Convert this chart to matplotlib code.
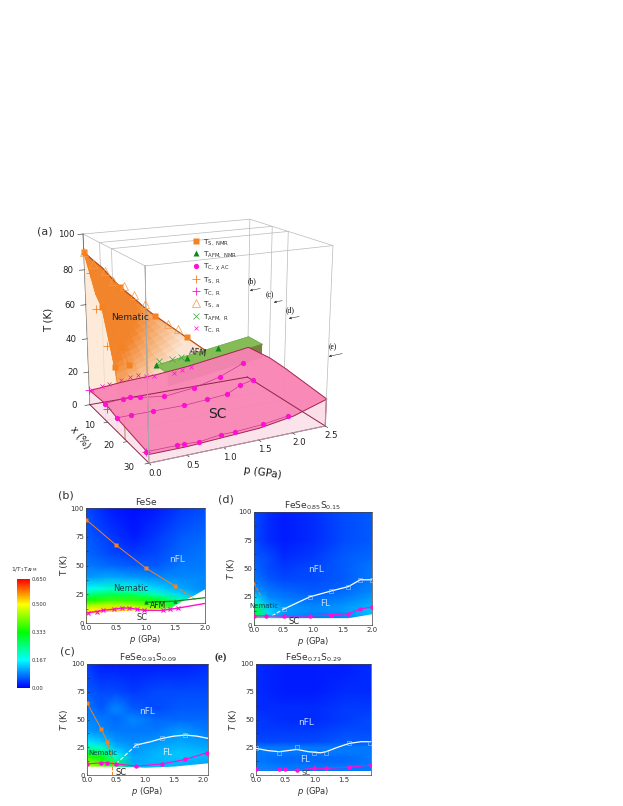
# -*- coding: utf-8 -*-
import numpy as np
import matplotlib
matplotlib.use('Agg')
import matplotlib.pyplot as plt
from matplotlib.colors import LinearSegmentedColormap, Normalize, to_rgb
from matplotlib.cm import ScalarMappable
from mpl_toolkits.mplot3d.art3d import Poly3DCollection

plt.rc('font', family='DejaVu Sans', size=5.5)
plt.rc('mathtext', default='regular')

W, H = 623, 806
NARANJA = '#f58220'
VERDE = '#0c8a1c'
MAGENTA = '#ff10d0'
BORDE_SC = '#a3234f'

# ---- datos por composicion (x = 0, 9, 15, 29 %)
p_ts_b = [0.0, 0.5, 1.0, 1.5]
t_ts_b = [90, 68, 48, 32]
p_afm_b = [1.0, 1.5, 2.0]
t_afm_b = [18, 19, 22]
p_tc_b = [0.04, 0.18, 0.29, 0.47, 0.60, 0.73, 0.85, 0.98, 1.29, 1.42, 1.55]
t_tc_b = [9, 10, 11, 12, 13, 13, 12, 11, 11, 12, 13]

p_ts_c = [0.0, 0.25, 0.35]
t_ts_c = [65, 41, 30]
p_tc_c = [0.0, 0.25, 0.35, 0.5, 0.85, 1.3, 1.7, 2.07]
t_tc_c = [10, 11, 11, 10, 8, 10, 14, 20]
p_fl_c = [0.85, 1.3, 1.7]
t_fl_c = [27, 33, 36]
p_linea_c = [0.85, 1.1, 1.3, 1.5, 1.7, 1.9, 2.09]
t_linea_c = [27, 30, 33, 35, 36, 35, 33]

p_tc_d = [0.0, 0.2, 0.5, 0.95, 1.3, 1.6, 1.8, 2.0]
t_tc_d = [8, 8, 8, 8, 9, 10, 14, 16]
p_fl_d = [0.5, 0.95, 1.3, 1.6, 1.8, 2.0]
t_fl_d = [14, 25, 30, 34, 40, 40]

p_tc_e = [0.0, 0.4, 0.5, 0.7, 1.0, 1.2, 1.6, 1.97]
t_tc_e = [5, 5, 5, 4.5, 6, 6, 7, 9]
p_fl_e = [0.0, 0.4, 0.7, 1.0, 1.2, 1.6, 1.95]
t_fl_e = [24, 20, 25, 20, 20, 29, 29]
p_linea_e = [0.0, 0.2, 0.4, 0.7, 0.9, 1.1, 1.2, 1.4, 1.6, 1.8, 1.97]
t_linea_e = [24, 22, 21, 23, 21, 20, 21, 25, 28.5, 30, 30]

# ---- 1/T1T mapas
T_mapa = [0, 8, 12, 16, 20, 25, 30, 40, 50, 60, 75, 100]
p_mapa_b = [0.0, 0.4, 0.8, 1.2, 1.6, 2.0]
z_b = [[.52, .52, .52, .46, .30, .16],
       [.52, .52, .52, .46, .30, .16],
       [.50, .52, .50, .44, .28, .15],
       [.42, .45, .43, .38, .27, .14],
       [.34, .37, .36, .32, .22, .13],
       [.25, .28, .27, .21, .14, .10],
       [.17, .20, .18, .14, .11, .09],
       [.10, .11, .10, .09, .09, .09],
       [.08, .07, .06, .06, .08, .08],
       [.07, .05, .04, .05, .07, .08],
       [.06, .04, .02, .04, .06, .07],
       [.05, .02, .01, .02, .04, .05]]
p_mapa_c = [0.0, 0.25, 0.5, 0.8, 1.2, 1.6, 2.09]
z_c = [[.45, .40, .30, .12, .12, .12, .11],
       [.45, .40, .30, .12, .12, .12, .11],
       [.42, .37, .27, .11, .12, .12, .11],
       [.36, .33, .20, .11, .12, .13, .12],
       [.30, .27, .15, .10, .12, .13, .12],
       [.22, .20, .12, .10, .11, .12, .11],
       [.15, .13, .10, .09, .10, .11, .10],
       [.10, .09, .08, .08, .08, .10, .08],
       [.09, .08, .07, .09, .07, .07, .07],
       [.08, .06, .09, .06, .05, .06, .06],
       [.06, .05, .05, .04, .05, .05, .05],
       [.04, .02, .02, .02, .02, .02, .03]]
p_mapa_d = [0.0, 0.25, 0.5, 1.0, 1.5, 2.0]
z_d = [[.30, .14, .10, .08, .09, .12],
       [.30, .14, .10, .08, .09, .12],
       [.30, .14, .10, .09, .10, .13],
       [.27, .13, .10, .09, .10, .12],
       [.20, .11, .09, .08, .09, .11],
       [.14, .09, .08, .07, .08, .10],
       [.10, .08, .07, .06, .07, .09],
       [.08, .06, .05, .05, .06, .08],
       [.07, .05, .04, .05, .06, .08],
       [.06, .05, .03, .04, .06, .07],
       [.05, .03, .02, .03, .05, .06],
       [.05, .03, .02, .03, .05, .06]]
p_mapa_e = [0.0, 0.5, 1.0, 1.5, 1.97]
z_e = [[.09, .08, .08, .08, .08],
       [.09, .08, .08, .08, .08],
       [.08, .07, .07, .07, .08],
       [.08, .07, .07, .07, .08],
       [.08, .08, .08, .08, .08],
       [.08, .08, .08, .08, .08],
       [.05, .05, .05, .06, .06],
       [.04, .04, .04, .05, .05],
       [.04, .03, .03, .04, .05],
       [.03, .03, .03, .04, .04],
       [.03, .02, .02, .03, .03],
       [.03, .02, .02, .02, .03]]

# zona blanca bajo Tc
p_blanco_b = [0.0, 0.3, 0.7, 1.0, 1.4, 1.6, 1.8, 2.0]
t_blanco_b = [8, 10, 11, 12, 13, 19, 24, 30]
p_blanco_c = [0.0, 0.5, 1.0, 1.5, 2.09]
t_blanco_c = [8, 8, 7, 8, 11]
p_blanco_d = [0.0, 1.6, 2.0]
t_blanco_d = [6.5, 6.5, 10]
p_blanco_e = [0.0, 1.97]
t_blanco_e = [4, 4]

# ---- panel 3D
x_tabla = [0, 9, 15, 30]
p_tabla = [0.0, 0.5, 1.0, 1.5, 2.0, 2.5]
tc_tabla = [[9, 11, 12, 14, 17, 20],
            [10, 10, 8.5, 11, 18, 21],
            [8, 8, 8, 9, 15, 20],
            [5, 5, 6, 7, 10, 16]]

# borde de la superficie nematica por niveles de T
t_nem = [90, 85, 80, 75, 70, 65, 60, 55, 50, 45, 40, 35, 30, 25, 20, 15, 10]
x_nem_izq = [0, 1.5, 3, 4.5, 6, 9, 10, 11, 12, 13, 14, 15, 15.7, 16.3, 17, 18, 19]
p_nem_fon = [0, 0.12, 0.25, 0.35, 0.45, 0.57, 0.7, 0.82, 0.95, 1.1, 1.25, 1.4, 1.55, 1.7, 1.85, 1.97, 2.1]

x_lado_tc = [0, 9, 15, 19]
t_lado_tc = [9, 10, 8, 8]

p_ts_a = [0.0, 0.12, 0.28, 0.4, 0.55, 0.7, 0.85, 1.2, 1.35]
t_ts_a = [90, 83, 78, 72, 68, 62, 56, 42, 38]
x_ts_r = [3, 6, 11]
t_ts_r = [80, 62, 45]
x_tc_r = [0, 10, 29]
t_tc_r = [9, 8, 5]
p_afm_r = [1.05, 1.25, 1.4]
t_afm_r = [20, 20, 20]
p_verde = [1.0, 2.5]
t_verde_sup = [18, 27]
t_verde_inf = [10, 18]
x_verde = [0, 6]

t_ticks3d = [0, 20, 40, 60, 80, 100]
x_ticks3d = [10, 20, 30]
p_ticks3d = [0.0, 0.5, 1.0, 1.5, 2.0, 2.5]
leyenda = [r'T$_{S,\ NMR}$', r'T$_{AFM,\ NMR}$', r'T$_{C,\ \chi\ AC}$', r'T$_{S,\ R}$',
           r'T$_{C,\ R}$', r'T$_{S,\ a}$', r'T$_{AFM,\ R}$', r'T$_{C,\ R}$']

cbar_ticks = [0.0, 0.167, 0.333, 0.5, 0.65]
cbar_etiquetas = ['0.00', '0.167', '0.333', '0.500', '0.650']

mapa = LinearSegmentedColormap.from_list('rmn', [(0, '#0000ff'), (0.167 / 0.65, '#00ffff'),
                                                (0.333 / 0.65, '#00ff00'), (0.5 / 0.65, '#ffff00'),
                                                (1, '#ff0000')])
norma = Normalize(0, 0.65)


def caja(x0, y0, x1, y1):
    return [x0 / W, 1 - y1 / H, (x1 - x0) / W, (y1 - y0) / H]


fig = plt.figure(figsize=(W / 100, H / 100), dpi=100)

# ================= panel (a)
ax = fig.add_axes(caja(50, 184, 350, 484), projection='3d')
ax.computed_zorder = False
ax.set_proj_type('persp', focal_length=0.55)
ax.view_init(elev=17, azim=-116.5)
ax.set_box_aspect((1.2, 1.0, 1.15), zoom=1.0)
ax.set_xlim(0, 2.5, view_margin=0)
ax.set_ylim(30, 0, view_margin=0)
ax.set_zlim(0, 100, view_margin=0)
ax.set_axis_off()
ax.set_xticks([])
ax.set_yticks([])
ax.set_zticks([])
ax.patch.set_alpha(0)

# planos de corte y caja
for xc, zo in zip([0, 9, 15, 30], [1, 1, 1, 12]):
    ax.plot([0, 2.5, 2.5, 0, 0], [xc] * 5, [0, 0, 100, 100, 0], color='#b9b9b9', lw=0.5, zorder=zo)
ax.plot([0, 0], [0, 30], [100, 100], color='#b9b9b9', lw=0.5, zorder=1)
ax.plot([2.5, 2.5], [0, 30], [100, 100], color='#b9b9b9', lw=0.5, zorder=1)
ax.plot([0, 0], [0, 0], [0, 100], color='#666666', lw=0.6, zorder=1)

# caras palidas
tabla = np.array(tc_tabla, dtype=float)
cara_izq = [(0, x, t) for x, t in zip(x_tabla, tabla[:, 0])] + [(0, 30, 0), (0, 0, 0)]
cara_frente = [(p, 30, t) for p, t in zip(p_tabla, tabla[-1])] + [(2.5, 30, 0), (0, 30, 0)]
cara_der = [(2.5, x, t) for x, t in zip(x_tabla, tabla[:, -1])] + [(2.5, 30, 0), (2.5, 0, 0)]
cara_pal = Poly3DCollection([cara_izq, cara_der, cara_frente], facecolor='#fbdde8', edgecolor='none',
                            alpha=0.8, zorder=2)
ax.add_collection3d(cara_pal)

lado = [(0, x, t) for x, t in zip(x_nem_izq, t_nem)]
lado += [(0, x, t) for x, t in zip(x_lado_tc[::-1], t_lado_tc[::-1])]
ax.add_collection3d(Poly3DCollection([lado], facecolor='#fde3cc', edgecolor='none', alpha=0.75, zorder=3))

# superficie nematica: sombreado entre el borde p=0 y el borde x=0
naranja_rgb = np.array(to_rgb('#f2852c'))
claro_rgb = np.array(to_rgb('#fbeadb'))
tramos = np.linspace(0, 1, 9)
sub = [0, 0.5, 1]
cuads, cols = [], []
for i in range(len(t_nem) - 1):
    for f0, f1 in zip(sub[:-1], sub[1:]):
        for u0, u1 in zip(tramos[:-1], tramos[1:]):
            cuad = []
            for f, u in [(f0, u0), (f0, u1), (f1, u1), (f1, u0)]:
                tt = t_nem[i] + f * (t_nem[i + 1] - t_nem[i])
                pf = p_nem_fon[i] + f * (p_nem_fon[i + 1] - p_nem_fon[i])
                xi = x_nem_izq[i] + f * (x_nem_izq[i + 1] - x_nem_izq[i])
                cuad.append((u * pf, (1 - u) * xi, tt))
            peso = np.clip((cuad[0][2] - 12 - 22 * u0) / 28, 0.05, 1)
            cuads.append(cuad)
            cols.append(peso * naranja_rgb + (1 - peso) * claro_rgb)
ax.add_collection3d(Poly3DCollection(cuads, facecolors=cols, edgecolors=cols, linewidth=0.7, zorder=4))
ax.plot(p_nem_fon[:15], [0] * 15, t_nem[:15], color='#b8501a', lw=0.9, zorder=5)
ax.plot([0] * len(t_nem), x_nem_izq, t_nem, color=NARANJA, lw=0.5, zorder=5)
ax.plot([0, 0], [19, 19], [0, 10], color='#b58a55', lw=0.7, zorder=3)

# AFM
sup = [(p_verde[0], x_verde[0], t_verde_sup[0]), (p_verde[1], x_verde[0], t_verde_sup[1]),
       (p_verde[1], x_verde[1], t_verde_sup[1]), (p_verde[0], x_verde[1], t_verde_sup[0])]
ax.add_collection3d(Poly3DCollection([sup], facecolor='#84bd55', edgecolor='#5f9a40', linewidth=0.4, zorder=6))
inf = [(p_verde[0], x_verde[1], t_verde_sup[0]), (p_verde[1], x_verde[1], t_verde_sup[1]),
       (p_verde[1], x_verde[1], t_verde_inf[1]), (p_verde[0], x_verde[1], t_verde_inf[0])]
ax.add_collection3d(Poly3DCollection([inf], facecolor='#77803f', edgecolor='none', zorder=6))

# cupula SC
borde = [(p, x_tabla[0], t) for p, t in zip(p_tabla, tabla[0])]
borde += [(2.5, x, t) for x, t in zip(x_tabla[1:], tabla[1:, -1])]
borde += [(p, 30, t) for p, t in zip(p_tabla[::-1], tabla[-1][::-1])]
borde += [(0, x, t) for x, t in zip(x_tabla[-2:0:-1], tabla[-2:0:-1, 0])]
ax.add_collection3d(Poly3DCollection([borde], facecolor='#f985b5', edgecolor=BORDE_SC, linewidth=0.7,
                                     alpha=0.95, zorder=7))

# aristas inferiores
for pa, xa, pb, xb in [(0, 0, 0, 30), (0, 30, 2.5, 30), (2.5, 0, 2.5, 30), (0, 0, 2.5, 0)]:
    ax.plot([pa, pb], [xa, xb], [0, 0], color='#8c2448', lw=0.7, zorder=8)
ax.plot([0, 0], [30, 30], [0, 100], color='#777777', lw=0.6, zorder=8)
ax.plot([2.5, 2.5], [30, 30], [0, 16], color=BORDE_SC, lw=0.8, zorder=8)

# puntos
linea_x = dict(color='#c2308a', lw=0.45, zorder=9)
ax.plot(p_tc_c, [9] * len(p_tc_c), t_tc_c, **linea_x)
ax.plot(p_tc_d, [15] * len(p_tc_d), t_tc_d, **linea_x)
ax.plot(p_tc_e, [29] * len(p_tc_e), t_tc_e, **linea_x)
ax.plot(p_ts_c, [9] * 3, t_ts_c, color=NARANJA, lw=0.5, zorder=9)

h1, = ax.plot(p_ts_b + p_ts_c + [0], [0] * 4 + [9] * 3 + [15], t_ts_b + t_ts_c + [37], 's', color=NARANJA, ms=3.8,
              mec='none', zorder=10)
h2, = ax.plot(p_afm_b, [0] * 3, t_afm_b, '^', color=VERDE, ms=4, mec='none', zorder=11)
h3, = ax.plot(p_tc_c + p_tc_d + p_tc_e, [9] * 8 + [15] * 8 + [29] * 8, t_tc_c + t_tc_d + t_tc_e, 'o',
              color=MAGENTA, ms=3.8, mec='none', zorder=11)
h4, = ax.plot([0] * 3, x_ts_r, t_ts_r, '+', color=NARANJA, ms=6, mew=0.6, zorder=10)
h5, = ax.plot([0] * 3, x_tc_r, t_tc_r, '+', color=MAGENTA, ms=6, mew=0.6, zorder=10)
h6, = ax.plot(p_ts_a, [0] * len(p_ts_a), t_ts_a, '^', mfc='none', mec='#f59a45', ms=5.5, mew=0.5, zorder=10)
h7, = ax.plot(p_afm_r, [0] * 3, t_afm_r, 'x', color='#3fa23f', ms=4.5, mew=0.5, zorder=10)
h8, = ax.plot(p_tc_b, [0] * len(p_tc_b), t_tc_b, 'x', color=MAGENTA, ms=3.5, mew=0.5, zorder=10)

# ticks
for t in t_ticks3d:
    ax.plot([0, -0.07], [0, 0], [t, t], color='#444444', lw=0.5, zorder=8)
    ax.text(-0.2, -1.0, t, str(t), fontsize=6.2, ha='center', va='center', color='#222222')
for x in x_ticks3d:
    ax.plot([0, -0.05], [x, x], [0, 0], color='#444444', lw=0.5, zorder=8)
    ax.text(-0.25, x, 0, str(x), fontsize=6.2, ha='center', va='center', color='#222222')
for p in p_ticks3d:
    ax.plot([p, p], [30, 30.8], [0, 0], color='#444444', lw=0.5, zorder=8)
    ax.text(p + 0.03, 31.5, -4, f'{p:.1f}', fontsize=6.2, ha='center', va='center', color='#222222')

fig.legend([h1, h2, h3, h4, h5, h6, h7, h8], leyenda, loc='upper left',
           bbox_to_anchor=(186 / W, 1 - 233 / H), frameon=False, fontsize=5.4, labelspacing=0.3,
           handletextpad=0.2, handlelength=1.6, borderpad=0, labelcolor='#333333')

# capa 2D para textos y flechas en pixeles
capa = fig.add_axes([0, 0, 1, 1], zorder=20)
capa.set_xlim(0, W)
capa.set_ylim(H, 0)
capa.axis('off')
capa.set_xticks([])
capa.set_yticks([])
capa.patch.set_alpha(0)

capa.text(45, 231, '(a)', fontsize=8, ha='center', va='center', color='#333333')
capa.text(49, 320, 'T (K)', fontsize=7.5, rotation=90, ha='center', va='center', color='#222222')
capa.text(80, 437, 'x (%)', fontsize=7, rotation=-52, ha='center', va='center', color='#222222')
capa.text(263, 473, 'p (GPa)', fontsize=7.5, rotation=-8, ha='center', va='center', color='#222222')
capa.text(130, 317, 'Nematic', fontsize=6.5, ha='center', va='center', color='#222222')
capa.text(198, 353, 'AFM', fontsize=6, ha='center', va='center', color='#222222', rotation=-8)
capa.text(217, 414, 'SC', fontsize=10, ha='center', va='center', color='#222222')

for etiqueta, xt, yt, xf, yf, xi, yi in [('(b)', 252, 281, 263, 288, 247, 291),
                                         ('(c)', 270, 295, 285, 300, 271, 303),
                                         ('(d)', 290, 310, 302, 316, 286, 319),
                                         ('(e)', 333, 347, 345, 353, 326, 357)]:
    capa.text(xt, yt, etiqueta, fontsize=5.5, ha='center', va='center', family='Liberation Serif')
    capa.annotate('', xy=(xi, yi), xytext=(xf, yf),
                  arrowprops=dict(arrowstyle='-|>,head_width=0.12,head_length=0.25', lw=0.4, color='#333333'))


# ================= paneles inferiores
def panel(rect, p_m, z, p_bl, t_bl, xmax, titulo, xticks, italica):
    a = fig.add_axes(caja(*rect))
    a.pcolormesh(p_m, T_mapa, np.array(z), cmap=mapa, norm=norma, shading='gouraud', rasterized=True)
    a.fill_between(p_bl, 0, t_bl, color='white', lw=0, zorder=2)
    a.set_xlim(0, xmax)
    a.set_ylim(0, 100)
    a.set_xticks(xticks)
    a.set_yticks([0, 25, 50, 75, 100])
    a.set_yticks([12.5, 37.5, 62.5, 87.5], minor=True)
    a.set_xticks([v + 0.25 for v in xticks if v + 0.25 < xmax], minor=True)
    a.tick_params(which='both', direction='in', length=1.5, width=0.4, labelsize=5, pad=1.5, color='#222222',
                  labelcolor='#333333')
    a.set_xticklabels([f'{v:.1f}' for v in xticks])
    for s in a.spines.values():
        s.set_linewidth(0.5)
        s.set_color('#444444')
    a.set_title(titulo, fontsize=6.5, pad=2.5, color='#333333')
    a.set_xlabel('$\\mathit{p}$ (GPa)', fontsize=6, labelpad=1.5, color='#333333')
    a.set_ylabel('$\\mathit{T}$ (K)' if italica else 'T (K)', fontsize=6.5, labelpad=1, color='#333333')
    return a


ticks_p = [0.0, 0.5, 1.0, 1.5, 2.0]
estilo_fl = dict(color='white', lw=0.9, zorder=4)

# (b)
b = panel((86, 508, 205, 623), p_mapa_b, z_b, p_blanco_b, t_blanco_b, 2.0, 'FeSe', ticks_p, False)
b.plot(p_ts_b, t_ts_b, '-s', color=NARANJA, ms=3, lw=0.7, mec='none', zorder=5)
b.plot([1.5, 1.85], [32, 20], '--', color=NARANJA, lw=0.7, zorder=5)
b.plot(p_afm_b, t_afm_b, color='#0e8a20', lw=0.9, zorder=5)
b.plot(p_afm_b[:2], t_afm_b[:2], '^', color='#0e8a20', ms=3.2, mec='none', zorder=6)
b.plot(p_tc_b + [2.0], t_tc_b + [17], color=MAGENTA, lw=1.0, zorder=5)
b.plot(p_tc_b, t_tc_b, 'x', color=MAGENTA, ms=3.2, mew=0.8, zorder=6)
b.text(0.75, 30, 'Nematic', fontsize=6, ha='center', va='center', color='#10404a')
b.text(1.07, 15.5, 'AFM', fontsize=5.5, ha='left', va='center', color='#222222', zorder=7)
b.text(0.95, 5, 'SC', fontsize=6, ha='center', va='center', color='#333333', zorder=7)
b.text(1.53, 55, 'nFL', fontsize=6.5, ha='center', va='center', color='#c5dcff')

# (c)
c = panel((87, 664, 208, 775), p_mapa_c, z_c, p_blanco_c, t_blanco_c, 2.09,
          r'FeSe$_{0.91}$S$_{0.09}$', ticks_p, True)
c.plot(p_ts_c + [0.43], t_ts_c + [15], '-', color=NARANJA, lw=0.7, zorder=5)
c.plot(p_ts_c, t_ts_c, 's', color=NARANJA, ms=3.2, mec='none', zorder=6)
c.plot([0.44, 0.44], [0, 14], '--', color=NARANJA, lw=0.7, zorder=3)
c.plot([0.5, 0.85], [10, 27], '--', color='white', lw=0.8, zorder=4)
c.plot(p_linea_c, t_linea_c, **estilo_fl)
c.plot(p_fl_c, t_fl_c, 's', mfc='none', mec='#a9cdf5', ms=3, mew=0.4, zorder=5)
c.plot(p_tc_c, t_tc_c, color=MAGENTA, lw=0.8, zorder=5)
c.plot(p_tc_c, t_tc_c, 'o', color=MAGENTA, ms=3.2, mec='none', zorder=6)
c.text(0.28, 19.5, 'Nematic', fontsize=5, ha='center', va='center', color='#10404a', zorder=7)
c.text(0.59, 2.5, 'SC', fontsize=6, ha='center', va='center', color='#222222', zorder=7)
c.text(1.04, 57, 'nFL', fontsize=6.5, ha='center', va='center', color='#c5dcff')
c.text(1.38, 20, 'FL', fontsize=6.5, ha='center', va='center', color='#d8ecff')

# (d)
d = panel((254, 512, 372, 625), p_mapa_d, z_d, p_blanco_d, t_blanco_d, 2.0,
          r'FeSe$_{0.85}$S$_{0.15}$', ticks_p, True)
d.plot([0.0, 0.06, 0.1, 0.12], [37, 31, 27, 24], '--', color=NARANJA, lw=0.7, zorder=4)
d.plot([0.0], [37], 's', color=NARANJA, ms=2, mec='none', zorder=5)
d.plot([0.3, 0.5], [8, 14], '--', color='white', lw=0.8, zorder=4)
d.plot(p_fl_d, t_fl_d, **estilo_fl)
d.plot(p_fl_d, t_fl_d, 's', mfc='none', mec='#a9cdf5', ms=3, mew=0.4, zorder=5)
d.plot(p_tc_d, t_tc_d, color=MAGENTA, lw=0.8, zorder=5)
d.plot(p_tc_d, t_tc_d, 'o', color=MAGENTA, ms=3.2, mec='none', zorder=6)
d.text(0.17, 17, 'Nematic', fontsize=5, ha='center', va='center', color='#10404a', zorder=7)
d.text(0.68, 3.5, 'SC', fontsize=6, ha='center', va='center', color='#222222', zorder=7)
d.text(1.05, 49, 'nFL', fontsize=6.5, ha='center', va='center', color='#c5dcff')
d.text(1.2, 19, 'FL', fontsize=6.5, ha='center', va='center', color='#c5dcff')

# (e)
e = panel((256, 664, 371, 775), p_mapa_e, z_e, p_blanco_e, t_blanco_e, 1.97,
          r'FeSe$_{0.71}$S$_{0.29}$', ticks_p[:-1], True)
e.plot(p_linea_e, t_linea_e, **estilo_fl)
e.plot(p_fl_e, t_fl_e, 's', mfc='none', mec='#a9cdf5', ms=3, mew=0.4, zorder=5)
e.plot(p_tc_e, t_tc_e, color=MAGENTA, lw=0.8, zorder=5)
e.plot(p_tc_e, t_tc_e, 'o', color=MAGENTA, ms=3.2, mec='none', zorder=6)
e.text(0.85, 2, 'SC', fontsize=5, ha='center', va='center', color='#333333', zorder=7)
e.text(0.85, 47, 'nFL', fontsize=6.5, ha='center', va='center', color='#c5dcff')
e.text(0.84, 14, 'FL', fontsize=6.5, ha='center', va='center', color='#c5dcff')

capa.text(66, 496, '(b)', fontsize=8, ha='center', va='center', color='#333333')
capa.text(226, 499, '(d)', fontsize=8, ha='center', va='center', color='#333333')
capa.text(67, 651, '(c)', fontsize=8, ha='center', va='center', color='#333333')
capa.text(221, 657, '(e)', fontsize=8, ha='center', va='center', family='Liberation Serif',
          fontweight='bold', color='#333333')

# barra de color
cax = fig.add_axes(caja(17, 579, 30, 688))
cb = fig.colorbar(ScalarMappable(norm=norma, cmap=mapa), cax=cax)
cb.set_ticks(cbar_ticks, labels=cbar_etiquetas)
cb.ax.tick_params(length=0, labelsize=3.8, pad=1.5, labelcolor='#333333')
cb.outline.set_visible(False)
capa.text(24, 570, r'1/T$_1$T$_{AFM}$', fontsize=4.3, ha='center', va='center', color='#333333')

fig.savefig('out.png', dpi=100, facecolor='white')
